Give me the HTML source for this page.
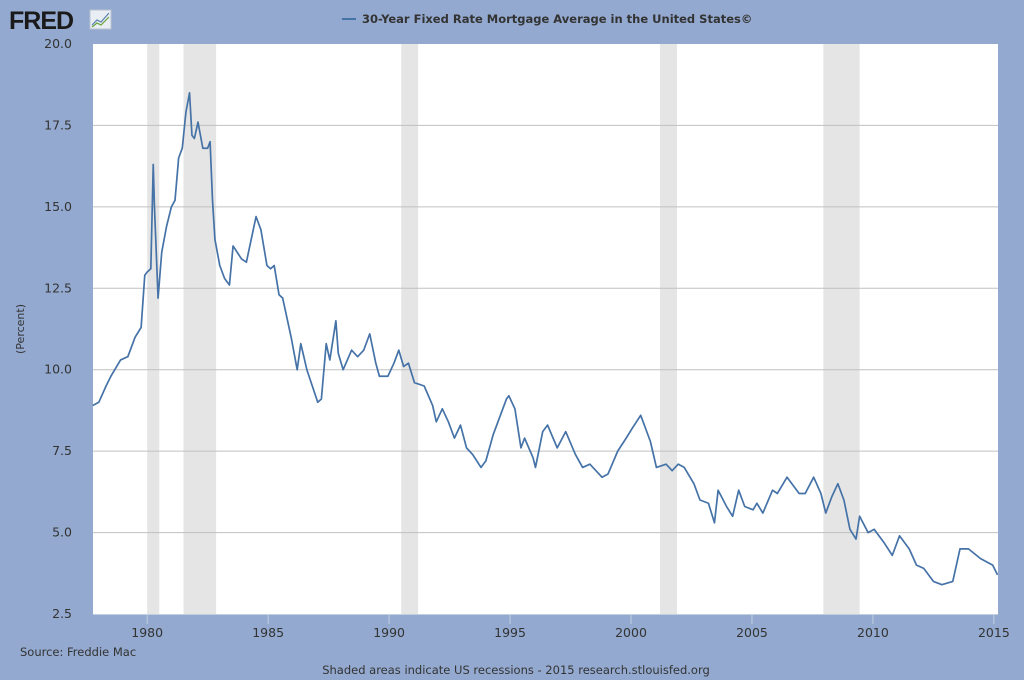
<!DOCTYPE html>
<html><head><meta charset="utf-8"><style>
body{margin:0;background:#93a9cf;font-family:"DejaVu Sans",sans-serif;}
svg{display:block}
text{font-family:"DejaVu Sans",sans-serif}
</style></head><body>
<svg id="c" width="1024" height="680">
<rect width="1024" height="680" fill="#93a9cf"/>
<g>
<text x="9" y="29" font-size="25" font-weight="bold" fill="#1a1a1a" style="font-family:'Liberation Sans',sans-serif" letter-spacing="-1">FRED</text>
<rect x="90" y="10" width="21" height="19" fill="#e8eef4" stroke="#b8c4cf"/>
<polyline points="92,25 97,20 101,22 109,13" fill="none" stroke="#5a7fb0" stroke-width="1.2"/>
<polyline points="92,27 97,23 101,25 109,17" fill="none" stroke="#6aa23a" stroke-width="1.2"/>
</g>
<g>
<line x1="342" y1="19" x2="356" y2="19" stroke="#4572a7" stroke-width="2"/>
<text x="362" y="23" font-size="11.5" font-weight="bold" fill="#333">30-Year Fixed Rate Mortgage Average in the United States©</text>
</g>
<rect x="93" y="44" width="905" height="570" fill="#fff"/>
<g id="rec"></g><g id="grid"></g><g id="ax"></g><g id="ser"></g>
<text transform="translate(24,329) rotate(-90)" text-anchor="middle" font-size="11" fill="#333">(Percent)</text>
<text x="20" y="656" font-size="11.5" fill="#333">Source: Freddie Mac</text>
<text x="516" y="674" text-anchor="middle" font-size="11.5" fill="#333">Shaded areas indicate US recessions - 2015 research.stlouisfed.org</text>
</svg>
<script>
const recStart=[1980.0,1981.5,1990.5,2001.2,2007.95];
const recEnd=[1980.5,1982.85,1991.2,2001.9,2009.45];
const yTicks=[2.5,5.0,7.5,10.0,12.5,15.0,17.5,20.0];
const xTicks=[1980,1985,1990,1995,2000,2005,2010,2015];
const dates=[1977.75,1978.0,1978.3,1978.5,1978.9,1979.2,1979.5,1979.75,1979.9,1980.0,1980.15,1980.25,1980.3,1980.45,1980.6,1980.8,1981.0,1981.15,1981.3,1981.45,1981.6,1981.75,1981.85,1981.95,1982.1,1982.3,1982.5,1982.6,1982.7,1982.8,1983.0,1983.2,1983.4,1983.55,1983.9,1984.1,1984.3,1984.5,1984.7,1984.95,1985.1,1985.25,1985.45,1985.6,1985.95,1986.2,1986.35,1986.6,1987.05,1987.2,1987.4,1987.55,1987.8,1987.9,1988.1,1988.45,1988.7,1988.95,1989.2,1989.45,1989.6,1989.95,1990.2,1990.4,1990.6,1990.8,1991.05,1991.45,1991.8,1991.95,1992.2,1992.45,1992.7,1992.95,1993.2,1993.45,1993.8,1994.0,1994.3,1994.55,1994.85,1994.95,1995.2,1995.45,1995.6,1995.95,1996.05,1996.35,1996.55,1996.95,1997.3,1997.7,1998.0,1998.3,1998.8,1999.05,1999.45,1999.8,2000.05,2000.4,2000.8,2001.05,2001.45,2001.7,2001.95,2002.2,2002.6,2002.85,2003.2,2003.45,2003.6,2003.95,2004.2,2004.45,2004.7,2005.05,2005.2,2005.45,2005.85,2006.05,2006.45,2006.95,2007.2,2007.55,2007.85,2008.05,2008.3,2008.55,2008.8,2009.05,2009.3,2009.45,2009.8,2010.05,2010.45,2010.8,2011.1,2011.5,2011.8,2012.1,2012.5,2012.85,2013.3,2013.6,2013.95,2014.45,2014.95,2015.15];
const rates=[8.9,9.0,9.5,9.8,10.3,10.4,11.0,11.3,12.9,13.0,13.1,16.3,15.0,12.2,13.6,14.4,15.0,15.2,16.5,16.8,17.9,18.5,17.2,17.1,17.6,16.8,16.8,17.0,15.2,14.0,13.2,12.8,12.6,13.8,13.4,13.3,14.0,14.7,14.3,13.2,13.1,13.2,12.3,12.2,11.0,10.0,10.8,10.0,9.0,9.1,10.8,10.3,11.5,10.5,10.0,10.6,10.4,10.6,11.1,10.2,9.8,9.8,10.2,10.6,10.1,10.2,9.6,9.5,8.9,8.4,8.8,8.4,7.9,8.3,7.6,7.4,7.0,7.2,8.0,8.5,9.1,9.2,8.8,7.6,7.9,7.3,7.0,8.1,8.3,7.6,8.1,7.4,7.0,7.1,6.7,6.8,7.5,7.9,8.2,8.6,7.8,7.0,7.1,6.9,7.1,7.0,6.5,6.0,5.9,5.3,6.3,5.8,5.5,6.3,5.8,5.7,5.9,5.6,6.3,6.2,6.7,6.2,6.2,6.7,6.2,5.6,6.1,6.5,6.0,5.1,4.8,5.5,5.0,5.1,4.7,4.3,4.9,4.5,4.0,3.9,3.5,3.4,3.5,4.5,4.5,4.2,4.0,3.7];
const ns='http://www.w3.org/2000/svg';
const L=93,R=998,T=44,B=614,x0=1977.76,x1=2015.17;
const X=v=>L+(v-x0)/(x1-x0)*(R-L);
const Y=v=>B-(v-2.5)/17.5*(B-T);
function mk(p,t,a){const e=document.createElementNS(ns,t);for(const k in a)e.setAttribute(k,a[k]);document.getElementById(p).appendChild(e);return e;}
recStart.forEach((s,i)=>{const e=mk('rec','rect',{x:X(s),y:T,width:X(recEnd[i])-X(s),height:B-T,fill:'#e5e5e5'});

});
yTicks.forEach(v=>{if(v>2.5&&v<20){const g=mk('grid','line',{x1:L,x2:R,y1:Y(v),y2:Y(v),stroke:'#c0c0c0','stroke-width':1});

}
const t=mk('ax','text',{x:72,y:Y(v)+4,'text-anchor':'end','font-size':12.5,fill:'#333'});t.textContent=v.toFixed(1);

});
mk('ax','line',{x1:L,x2:R,y1:B+0.5,y2:B+0.5,stroke:'#c0d0e0'});
xTicks.forEach(v=>{mk('ax','line',{x1:X(v),x2:X(v),y1:B,y2:B+10,stroke:'#c0d0e0'});
const t=mk('ax','text',{x:X(v),y:B+23,'text-anchor':'middle','font-size':12.5,fill:'#333'});t.textContent=v;

});
const p=mk('ser','polyline',{points:dates.map((d,i)=>X(d)+','+Y(rates[i])).join(' '),fill:'none',stroke:'#4572a7','stroke-width':1.7,'stroke-linejoin':'round'});


</script>
</body></html>
